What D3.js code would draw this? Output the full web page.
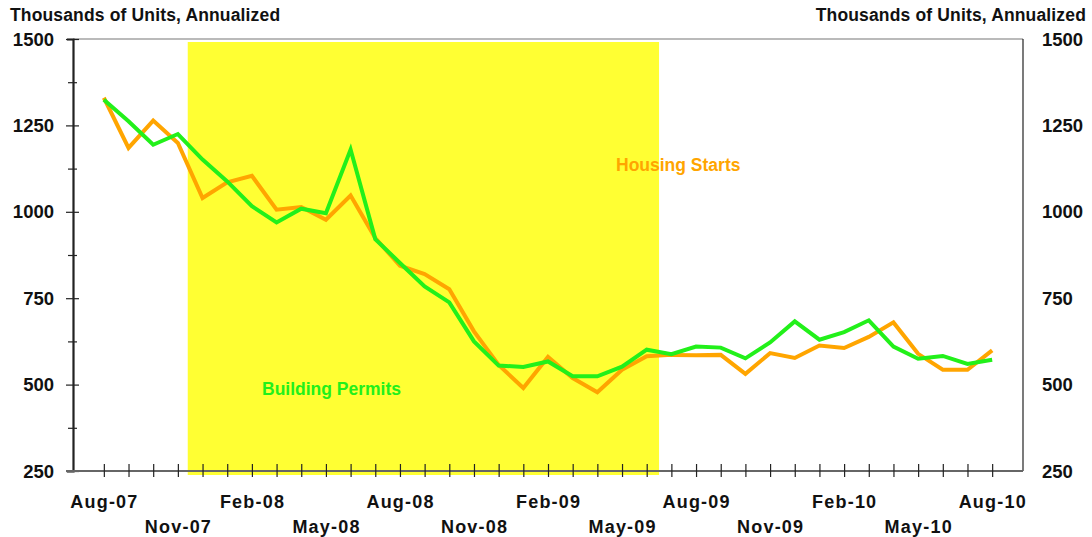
<!DOCTYPE html>
<html><head><meta charset="utf-8">
<script src="https://cdn.jsdelivr.net/npm/d3@7"></script>
<style>html,body{margin:0;padding:0;background:#fff}svg{display:block}text{font-family:"Liberation Sans",Arial,sans-serif;font-weight:bold}</style>
</head><body><svg id="c" width="1092" height="537"></svg>
<script>
const months = ["Aug-07","Sep-07","Oct-07","Nov-07","Dec-07","Jan-08","Feb-08","Mar-08","Apr-08","May-08","Jun-08","Jul-08","Aug-08","Sep-08","Oct-08","Nov-08","Dec-08","Jan-09","Feb-09","Mar-09","Apr-09","May-09","Jun-09","Jul-09","Aug-09","Sep-09","Oct-09","Nov-09","Dec-09","Jan-10","Feb-10","Mar-10","Apr-10","May-10","Jun-10","Jul-10","Aug-10"];
const housingStarts = [1330,1185,1264,1199,1040,1085,1104,1006,1014,977,1047,924,844,820,776,654,557,490,580,519,478,543,582,586,585,586,531,591,577,613,606,638,680,589,543,543,599];
const buildingPermits = [1324,1262,1194,1225,1151,1088,1016,969,1009,996,1180,921,852,784,738,625,555,551,567,524,524,552,601,588,610,607,576,622,683,630,652,686,610,575,583,560,572];
const yTicks = [250,500,750,1000,1250,1500];
const recession = [3.4, 22.5];
const axisTitle = "Thousands of Units, Annualized";

const svg = d3.select("#c");
const L = 73, R = 1023, T = 39, B = 471;
const x = d3.scaleLinear().domain([-1.25, months.length - 1 + 1.25]).range([L, R]);
const y = d3.scaleLinear().domain([250, 1500]).range([B, T]);

// recession shading
svg.append("rect").attr("x", x(recession[0])).attr("y", T + 3)
  .attr("width", x(recession[1]) - x(recession[0])).attr("height", B + 4 - (T + 3))
  .attr("fill", "#ffff33");

// top border and right border
svg.append("line").attr("x1", L).attr("x2", R).attr("y1", T).attr("y2", T).attr("stroke", "#777").attr("stroke-width", 1.2);
svg.append("line").attr("x1", R).attr("x2", R).attr("y1", T).attr("y2", B).attr("stroke", "#222").attr("stroke-width", 1.2);

// left axis
const yAxis = d3.axisLeft(y).tickValues(d3.range(250, 1501, 125)).tickSize(6).tickFormat("");
const gy = svg.append("g").attr("transform", `translate(${L},0)`).call(yAxis);
gy.select(".domain").attr("stroke", "#222").attr("stroke-width", 2.2);
gy.selectAll(".tick line").attr("stroke", "#222").attr("stroke-width", 1.2)
  .attr("x1", d => yTicks.includes(d) ? 6 : 4).attr("x2", d => yTicks.includes(d) ? -7 : -5);

// y tick labels left & right
svg.append("g").selectAll("text").data(yTicks).join("text")
  .attr("x", 54).attr("y", d => y(d) + 6.5).attr("text-anchor", "end")
  .attr("font-size", 18.5).attr("fill", "#111").text(d => d);
svg.append("g").selectAll("text").data(yTicks).join("text")
  .attr("x", 1042).attr("y", d => y(d) + 6.5).attr("text-anchor", "start")
  .attr("font-size", 18.5).attr("fill", "#111").text(d => d);

// bottom axis
const xAxis = d3.axisBottom(x).tickValues(d3.range(months.length)).tickSize(6).tickFormat("");
const gx = svg.append("g").attr("transform", `translate(0,${B})`).call(xAxis);
gx.select(".domain").attr("d", `M${L},0H${R}`).attr("stroke", "#666").attr("stroke-width", 2);
gx.selectAll(".tick line").attr("y1", -7).attr("y2", 6).attr("stroke", "#222").attr("stroke-width", 1.2);
svg.append("line").attr("x1", L - 7).attr("x2", L).attr("y1", B).attr("y2", B).attr("stroke", "#666").attr("stroke-width", 2);

// month labels staggered every 3 months
svg.append("g").selectAll("text").data(months.map((m, i) => ({m, i})).filter(d => d.i % 3 === 0)).join("text")
  .attr("x", d => x(d.i) + 0.6).attr("y", d => (d.i / 3) % 2 === 0 ? 508 : 533)
  .attr("text-anchor", "middle").attr("font-size", 18).attr("letter-spacing", 1.2)
  .attr("fill", "#111").text(d => d.m);

// titles
svg.append("text").attr("x", 10).attr("y", 21).attr("font-size", 17.5).attr("letter-spacing", 0.15).attr("fill", "#111").text(axisTitle);
svg.append("text").attr("x", 1086).attr("y", 21).attr("text-anchor", "end").attr("font-size", 17.5).attr("letter-spacing", 0.15).attr("fill", "#111").text(axisTitle);

// lines
const line = d3.line().x((d, i) => x(i)).y(d => y(d));
svg.append("path").datum(housingStarts).attr("d", line).attr("fill", "none")
  .attr("stroke", "#ffa500").attr("stroke-width", 4).attr("stroke-linejoin", "miter");
svg.append("path").datum(buildingPermits).attr("d", line).attr("fill", "none")
  .attr("stroke", "#22f01a").attr("stroke-width", 4).attr("stroke-linejoin", "miter");

// series labels
svg.append("text").attr("x", 616).attr("y", 171).attr("font-size", 17.5).attr("fill", "#ffa500").text("Housing Starts");
svg.append("text").attr("x", 262).attr("y", 395).attr("font-size", 17.5).attr("fill", "#22f01a").text("Building Permits");
</script></body></html>
